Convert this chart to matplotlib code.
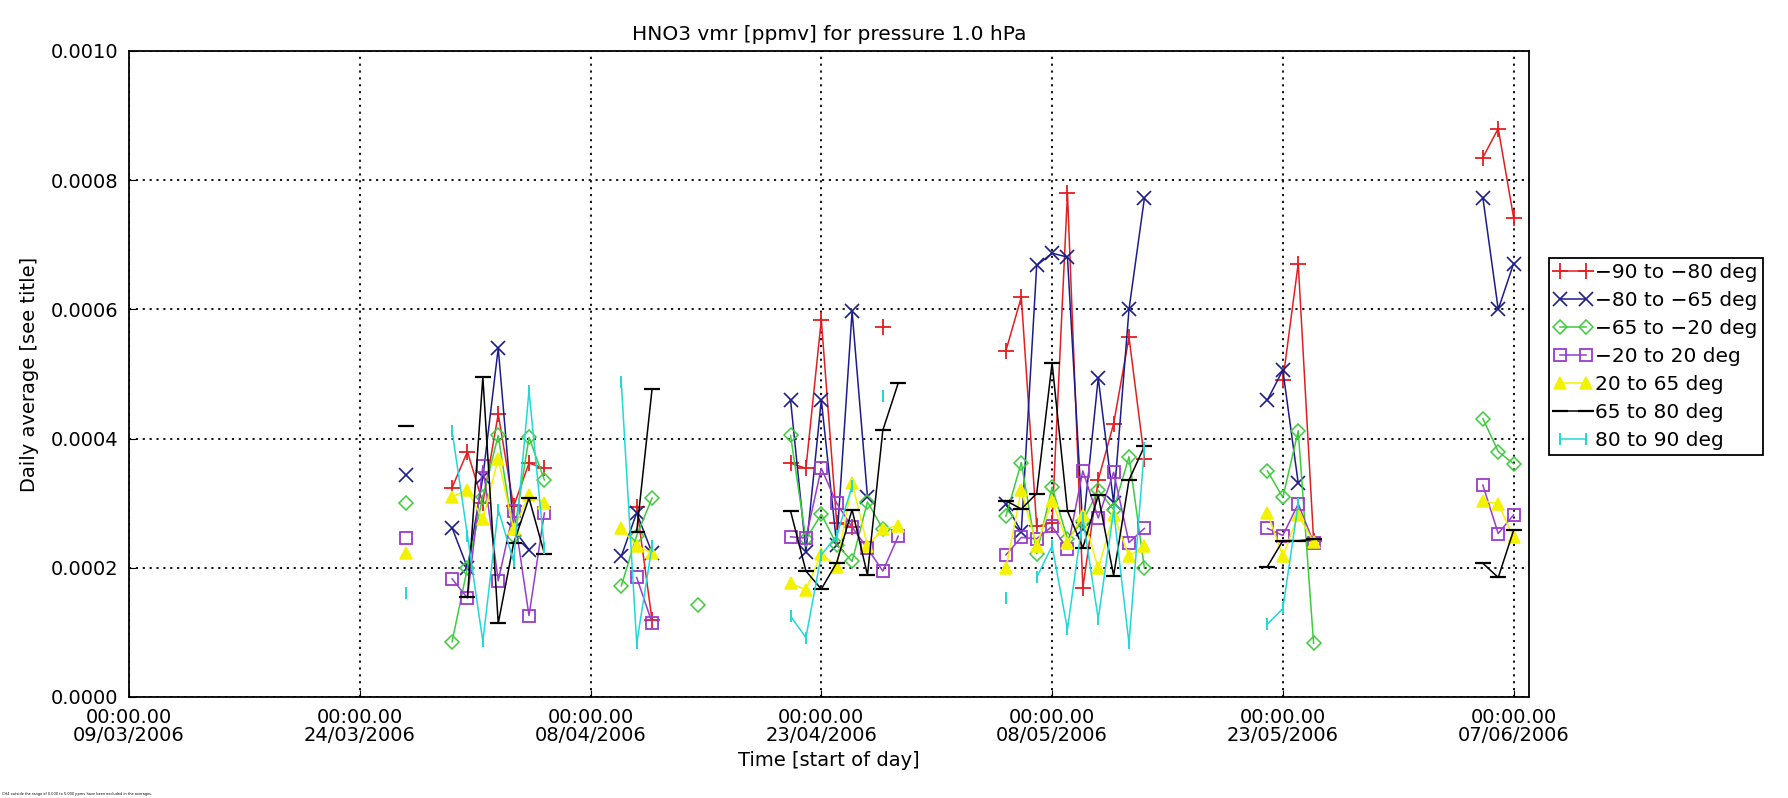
import numpy as np
import matplotlib
matplotlib.use('Agg')
import matplotlib.pyplot as plt
import matplotlib.dates as mdates

# day numbers counted from 09/03/2006, daily averages in ppmv
start = np.datetime64('2006-03-09')
n_days = 91

red_days = [21, 22, 23, 24, 25, 26, 27, 33, 34, 43, 44, 45, 46, 47, 49,
            57, 58, 59, 60, 61, 62, 63, 64, 65, 66, 75, 76, 77, 88, 89, 90]
red_vals = [.000324, .00038, .00030, .000438, .000295, .000362, .000354, .000294, .000119,
            .000362, .000354, .000584, .00027, .000263, .000573,
            .000536, .000619, .000264, .00027, .00078, .000169, .000336, .000423, .000557, .000369,
            .00049, .000671, .000242, .000835, .00088, .000742]

blue_days = [18, 21, 22, 23, 24, 25, 26, 32, 33, 34, 43, 44, 45, 46, 47, 48,
             57, 58, 59, 60, 61, 62, 63, 64, 65, 66, 74, 75, 76, 88, 89, 90]
blue_vals = [.000343, .000262, .0002, .00034, .00054, .00026, .000228, .000218, .000285, .000223,
             .00046, .000225, .00046, .000236, .000597, .00031,
             .000298, .000256, .000668, .000687, .000681, .00026, .000494, .0003, .0006, .000772,
             .00046, .000506, .000331, .000773, .0006, .000671]

green_days = [18, 21, 22, 23, 24, 25, 26, 27, 32, 33, 34, 37, 43, 44, 45, 46, 47, 48, 49,
              57, 58, 59, 60, 61, 62, 63, 64, 65, 66, 74, 75, 76, 77, 88, 89, 90]
green_vals = [.000301, .0000857, .0002, .00031, .000405, .00025, .000402, .000336,
              .000172, .00025, .000308, .000142,
              .000405, .000244, .000283, .000236, .00021, .000302, .00026,
              .00028, .000363, .000222, .000325, .000245, .000272, .00032, .00029, .000372, .0002,
              .00035, .000309, .000412, .000083, .000431, .00038, .000361]

purple_days = [18, 21, 22, 23, 24, 25, 26, 27, 33, 34, 43, 44, 45, 46, 47, 48, 49, 50,
               57, 58, 59, 60, 61, 62, 63, 64, 65, 66, 74, 75, 76, 77, 88, 89, 90]
purple_vals = [.000246, .000183, .000153, .000358, .00018, .000288, .000126, .000285,
               .000185, .000115,
               .000248, .000246, .000354, .0003, .000263, .00023, .000195, .000249,
               .00022, .000247, .000245, .000264, .000229, .00035, .000277, .000348, .000239, .000261,
               .000261, .00025, .000299, .000239, .000328, .000253, .000282]

yellow_days = [18, 21, 22, 23, 24, 25, 26, 27, 32, 33, 34, 43, 44, 45, 46, 47, 48, 49, 50,
               57, 58, 59, 60, 61, 62, 63, 64, 65, 66, 74, 75, 76, 77, 88, 89, 90]
yellow_vals = [.000223, .00031, .00032, .000275, .000369, .00026, .000312, .0003,
               .000261, .000234, .000223,
               .000176, .000166, .000222, .000202, .000332, .000234, .00026, .000265,
               .000199, .00032, .000234, .000304, .000239, .000282, .000199, .000282, .000218, .000234,
               .000285, .000218, .000282, .00024, .000304, .000299, .000247]

black_days = [18, 22, 23, 24, 25, 26, 27, 33, 34, 43, 44, 45, 46, 47, 48, 49, 50,
              57, 58, 59, 60, 61, 62, 63, 64, 65, 66, 74, 75, 76, 77, 88, 89, 90]
black_vals = [.000419, .000155, .000495, .000114, .000238, .000308, .000222, .000256, .000477,
              .000288, .000195, .000167, .000208, .00029, .000189, .000413, .000486,
              .000304, .000291, .000315, .000517, .000288, .000231, .000312, .000188, .000336, .000388,
              .000202, .000242, .000242, .000244, .000207, .000185, .000258]

cyan_days = [18, 21, 22, 23, 24, 25, 26, 27, 32, 33, 34, 43, 44, 45, 46, 47, 49,
             57, 59, 60, 61, 62, 63, 64, 65, 66, 74, 75, 76]
cyan_vals = [.000161, .000412, .00025, .000086, .00029, .00021, .000474, .00023,
             .000487, .000083, .000234,
             .000125, .000092, .00022, .00025, .000326, .000466,
             .000153, .000185, .000234, .000105, .000277, .000121, .000288, .000083, .000385,
             .000113, .000137, .000299]

labels = ['\u221290 to \u221280 deg', '\u221280 to \u221265 deg', '\u221265 to \u221220 deg',
          '\u221220 to 20 deg', '20 to 65 deg', '65 to 80 deg', '80 to 90 deg']


def daily(days, vals):
    y = np.full(n_days + 1, np.nan)
    y[days] = vals
    return y


x = start + np.arange(n_days + 1)
series = [
    (red_days, red_vals, '#e02020', '+', dict(ms=11, mew=1.3)),
    (blue_days, blue_vals, '#1c1c8a', 'x', dict(ms=10, mew=1.2)),
    (green_days, green_vals, '#3ccc3c', 'D', dict(ms=7, mew=1.1, mfc='none')),
    (purple_days, purple_vals, '#9a3ccc', 's', dict(ms=9, mew=1.3, mfc='none')),
    (yellow_days, yellow_vals, '#f2f200', '^', dict(ms=9, mew=1.1)),
    (black_days, black_vals, 'black', '_', dict(ms=12, mew=1.6)),
    (cyan_days, cyan_vals, '#20d8d8', '|', dict(ms=9, mew=1.4)),
]

fig = plt.figure(figsize=(17.88, 7.98), dpi=100)
ax = fig.add_axes([129 / 1788, 1 - 697 / 798, 1400 / 1788, 646 / 798])

handles = []
for (d, v, c, m, kw), lab in zip(series, labels):
    h, = ax.plot(x, daily(d, v), color=c, marker=m, lw=1.1, label=lab, **kw)
    handles.append(h)

ax.set_xlim(start, start + n_days)
ax.set_ylim(0, 0.001)
ax.set_xticks([start + np.timedelta64(15 * k, 'D') for k in range(7)])
ax.xaxis.set_major_formatter(mdates.DateFormatter('%H:%M.%S\n%d/%m/%Y'))
ax.set_yticks(np.arange(0, 0.00101, 0.0002))
ax.yaxis.set_major_formatter(matplotlib.ticker.FormatStrFormatter('%.4f'))
ax.tick_params(direction='in', length=5, labelsize=14, pad=8)
for lab in ax.get_xticklabels():
    lab.set_linespacing(0.95)
ax.grid(True, color='black', linestyle=(0, (1.2, 2.6)), linewidth=1.3)
for s in ax.spines.values():
    s.set_linewidth(1.3)

ax.set_title('HNO3 vmr [ppmv] for pressure 1.0 hPa', fontsize=14.5, pad=8)
ax.set_xlabel('Time [start of day]', fontsize=14, labelpad=4)
ax.set_ylabel('Daily average [see title]', fontsize=14, labelpad=8)

leg = fig.legend(handles=handles, loc='upper left', bbox_to_anchor=(1549 / 1788, 1 - 258 / 798),
                 borderaxespad=0, fontsize=14.5, numpoints=2, handlelength=1.9,
                 handletextpad=0.15, labelspacing=0.45, borderpad=0.25, fancybox=False,
                 framealpha=1, edgecolor='black')
leg.get_frame().set_linewidth(1.3)

fig.text(0.001, 0.002, 'CH4 outside the range of 0.000 to 5.000 ppmv have been excluded in the averages.',
         fontsize=2.5, ha='left', va='bottom')

fig.savefig('out.png', dpi=100)
